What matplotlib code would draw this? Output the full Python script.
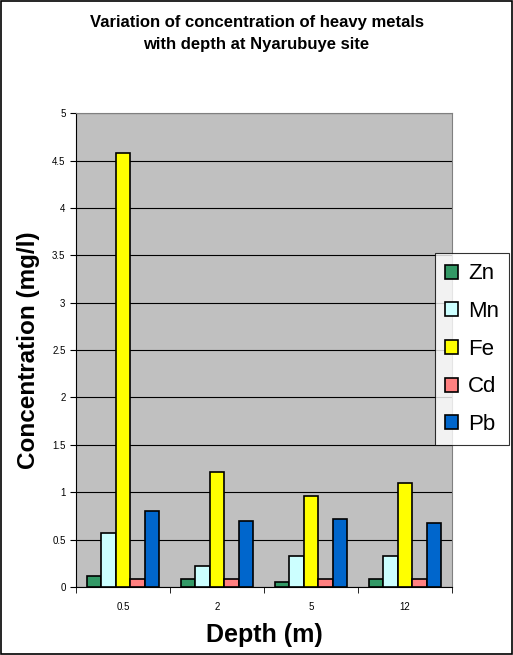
import numpy as np
import matplotlib
matplotlib.use('Agg')
import matplotlib.pyplot as plt
from matplotlib.patches import Rectangle

plt.rcParams['font.family'] = ['Liberation Sans', 'DejaVu Sans']

depths = ['0.5', '2', '5', '12']
metals = ['Zn', 'Mn', 'Fe', 'Cd', 'Pb']
zn = [0.12, 0.08, 0.05, 0.08]
mn = [0.57, 0.22, 0.33, 0.33]
fe = [4.58, 1.21, 0.96, 1.10]
cd = [0.08, 0.08, 0.08, 0.08]
pb = [0.80, 0.70, 0.72, 0.67]
colors = ['#339966', '#CCFFFF', '#FFFF00', '#FF8080', '#0066CC']

fig = plt.figure(figsize=(5.13, 6.55), dpi=100)
ax = fig.add_axes([0.148, 0.104, 0.733, 0.723])
ax.set_facecolor('#C0C0C0')

# Excel-style clustered bars: 5 bars + gap of 1.5 bar widths per category
x = np.arange(len(depths))
w = 1 / 6.5
for i, (vals, c, name) in enumerate(zip([zn, mn, fe, cd, pb], colors, metals)):
    ax.bar(x + (i - 2) * w, vals, width=w, color=c, edgecolor='black',
           linewidth=1.2, label=name, zorder=3)

ax.set_xlim(-0.5, 3.5)
ax.set_ylim(0, 5)
ax.set_yticks(np.arange(0, 5.01, 0.5))
ax.set_yticklabels(['0', '0.5', '1', '1.5', '2', '2.5', '3', '3.5', '4', '4.5', '5'])
ax.yaxis.grid(True, color='black', linewidth=0.8, zorder=0)
ax.tick_params(axis='y', labelsize=7, length=4, direction='out')

ax.set_xticks(x)
ax.set_xticklabels(depths)
ax.set_xticks(np.arange(-0.5, 3.51, 1), minor=True)
ax.tick_params(axis='x', which='major', length=0, labelsize=7, pad=11)
ax.tick_params(axis='x', which='minor', length=4, direction='out')

for side in ['top', 'right']:
    ax.spines[side].set_color('#808080')
ax.spines['left'].set_color('black')
ax.spines['bottom'].set_color('black')

ax.set_ylabel('Concentration (mg/l)', fontsize=17.5, fontweight='bold', labelpad=9)
ax.set_xlabel('Depth (m)', fontsize=18, fontweight='bold', labelpad=8)

fig.suptitle('Variation of concentration of heavy metals\nwith depth at Nyarubuye site',
             fontsize=12, fontweight='bold', y=0.977, x=0.5, linespacing=1.6)

leg = fig.legend(loc='upper left', bbox_to_anchor=(0.848, 0.613), fontsize=16,
                 frameon=True, fancybox=False, edgecolor='black', handlelength=0.6,
                 handleheight=0.6, handletextpad=0.45, labelspacing=0.75,
                 borderpad=0.45, borderaxespad=0)
leg.get_frame().set_linewidth(0.8)

fig.patches.append(Rectangle((0.002, 0.002), 0.996, 0.996, transform=fig.transFigure,
                             fill=False, edgecolor='black', linewidth=1.2))

fig.savefig('out.png', dpi=100)
